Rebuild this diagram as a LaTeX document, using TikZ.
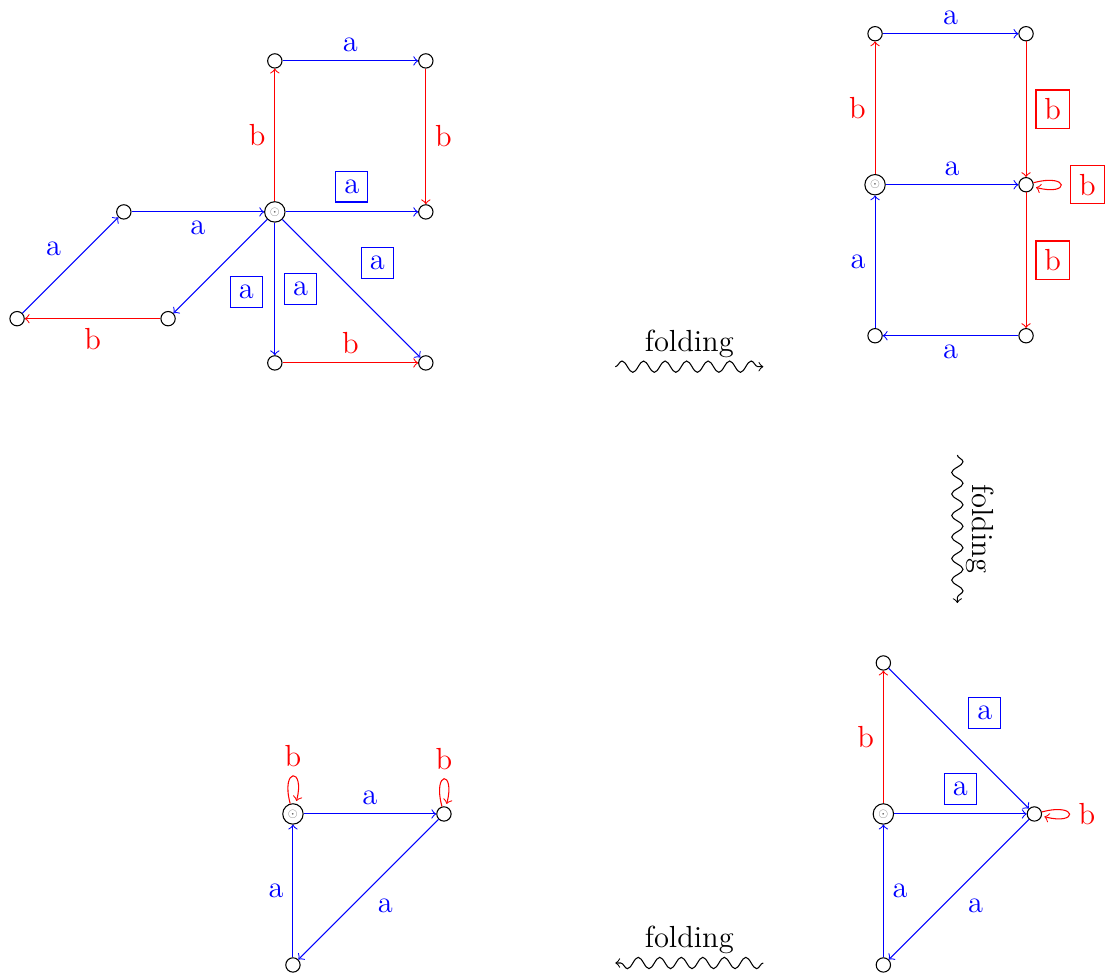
\documentclass[tikz,border=0pt]{standalone}
\usepackage{amsmath,amssymb}
\usepackage{xcolor}
\usepackage{tikz}
\usetikzlibrary{decorations.pathmorphing}

\newcommand{\bx}[1]{\fbox{#1}}
\newcommand{\rt}{\scalebox{0.4}{\color{black!60}$\odot$}}

\begin{document}
\begin{tikzpicture}[every node/.style={font=\fontsize{11.5}{14}\selectfont},
  vtx/.style={circle, draw=black, minimum size=0.19cm, inner sep=0pt},
  vtx0/.style={vtx, minimum size=0.27cm},
  ea/.style={->, blue}, eb/.style={->, red},
  fold/.style={->, decorate, decoration={snake, amplitude=0.075cm, segment length=0.285cm}}]
\useasboundingbox (0,0) rectangle (14.662,12.927);

\node[vtx0] (c) at (3.64,10.12) {\rt};
\node[vtx] (t1) at (3.64,12.12) {};
\node[vtx] (t2) at (5.64,12.12) {};
\node[vtx] (r) at (5.64,10.12) {};
\node[vtx] (l1) at (1.64,10.12) {};
\node[vtx] (l0) at (0.226,8.706) {};
\node[vtx] (l2) at (2.226,8.706) {};
\node[vtx] (b1) at (3.64,8.12) {};
\node[vtx] (b2) at (5.64,8.12) {};
\draw[ea] (l0) -- node[above left] {a} (l1);
\draw[ea] (l1) -- node[below] {a} (c);
\draw[ea] (c) -- node[below right] {\bx{a}} (l2);
\draw[eb] (l2) -- node[below] {b} (l0);
\draw[eb] (c) -- node[left] {b} (t1);
\draw[ea] (t1) -- node[above] {a} (t2);
\draw[eb] (t2) -- node[right] {b} (r);
\draw[ea] (c) -- node[above] {\bx{a}} (r);
\draw[ea] (c) -- node[right] {\bx{a}} (b1);
\draw[ea] (c) -- node[above right] {\bx{a}} (b2);
\draw[eb] (b1) -- node[above] {b} (b2);

\node[vtx0] (m0) at (11.59,10.48) {\rt};
\node[vtx] (m1) at (11.59,12.48) {};
\node[vtx] (m2) at (13.59,12.48) {};
\node[vtx] (m3) at (13.59,10.48) {};
\node[vtx] (m4) at (13.59,8.48) {};
\node[vtx] (m5) at (11.59,8.48) {};
\draw[eb] (m0) -- node[left] {b} (m1);
\draw[ea] (m1) -- node[above] {a} (m2);
\draw[eb] (m2) -- node[right] {\bx{b}} (m3);
\draw[ea] (m0) -- node[above] {a} (m3);
\draw[eb] (m3) edge[loop right] node[right] {\bx{b}} (m3);
\draw[eb] (m3) -- node[right] {\bx{b}} (m4);
\draw[ea] (m4) -- node[below] {a} (m5);
\draw[ea] (m5) -- node[left] {a} (m0);

\node[vtx0] (p0) at (11.70,2.146) {\rt};
\node[vtx] (p1) at (11.70,4.146) {};
\node[vtx] (p2) at (13.70,2.146) {};
\node[vtx] (p3) at (11.70,0.146) {};
\draw[eb] (p0) -- node[left] {b} (p1);
\draw[ea] (p1) -- node[above right] {\bx{a}} (p2);
\draw[ea] (p0) -- node[above] {\bx{a}} (p2);
\draw[eb] (p2) edge[loop right] node[right] {b} (p2);
\draw[ea] (p2) -- node[below right] {a} (p3);
\draw[ea] (p3) -- node[right] {a} (p0);

\node[vtx0] (q0) at (3.88,2.146) {\rt};
\node[vtx] (q1) at (5.88,2.146) {};
\node[vtx] (q2) at (3.88,0.146) {};
\draw[eb] (q0) edge[loop above] node[above] {b} (q0);
\draw[eb] (q1) edge[loop above] node[above] {b} (q1);
\draw[ea] (q0) -- node[above] {a} (q1);
\draw[ea] (q1) -- node[below right] {a} (q2);
\draw[ea] (q2) -- node[left] {a} (q0);

\coordinate (f1s) at (8.15,8.07);
\coordinate (f1e) at (10.11,8.07);
\coordinate (f2s) at (12.68,6.90);
\coordinate (f2e) at (12.68,4.94);
\coordinate (f3s) at (10.11,0.172);
\coordinate (f3e) at (8.15,0.172);
\draw[fold] (f1s) -- node[above] {folding} (f1e);
\draw[fold] (f2s) -- node[above, sloped] {folding} (f2e);
\draw[fold] (f3s) -- node[above] {folding} (f3e);
\end{tikzpicture}
\end{document}
